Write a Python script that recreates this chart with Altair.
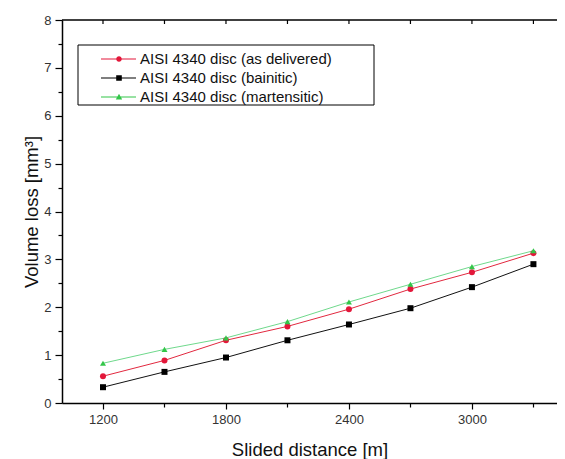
import altair as alt
import pandas as pd

# ---- data ----
distance = [1200, 1500, 1800, 2100, 2400, 2700, 3000, 3300]
as_delivered = [0.56, 0.89, 1.31, 1.60, 1.96, 2.38, 2.73, 3.13]
bainitic = [0.33, 0.65, 0.95, 1.31, 1.64, 1.98, 2.42, 2.90]
martensitic = [0.83, 1.12, 1.36, 1.70, 2.11, 2.48, 2.85, 3.18]

series_names = [
    "AISI 4340 disc (as delivered)",
    "AISI 4340 disc (bainitic)",
    "AISI 4340 disc (martensitic)",
]
line_colors = ["#e2283f", "#111111", "#6fd98c"]
marker_colors = ["#e3173a", "#000000", "#33c649"]
marker_shapes = ["circle", "square", "triangle-up"]

x_ticks = [1200, 1500, 1800, 2100, 2400, 2700, 3000, 3300]
y_ticks = [i * 0.5 for i in range(17)]

# legend symbols: line segment + marker (unit coords, scaled by sqrt(size)/2)
legend_paths = [
    "M1.25,-0.07H5.625V0.07H1.25Z M3.85,0A0.35,0.35 0 1,1 3.15,0A0.35,0.35 0 1,1 3.85,0Z",
    "M1.25,-0.07H5.625V0.07H1.25Z M3.15,-0.33H3.85V0.33H3.15Z",
    "M1.25,-0.07H5.625V0.07H1.25Z M3.5,-0.4L3.9,0.3L3.1,0.3Z",
]

rows = []
for name, vals in zip(series_names, [as_delivered, bainitic, martensitic]):
    for d, v in zip(distance, vals):
        rows.append({"distance": d, "loss": v, "series": name})
df = pd.DataFrame(rows)
ticks_df = pd.DataFrame({"distance": x_ticks})
one_df = pd.DataFrame({"k": [0]})

W, H = 495, 383
FONT = "Liberation Sans"

x_scale = alt.Scale(domain=[1000, 3415], nice=False, zero=False)
y_scale = alt.Scale(domain=[0, 8], nice=False, zero=False)

x_enc = alt.X(
    "distance:Q",
    scale=x_scale,
    axis=alt.Axis(
        values=x_ticks,
        format="d",
        labelExpr="datum.value % 600 === 0 ? datum.label : ''",
        tickSize={"condition": {"test": "datum.value % 600 === 0", "value": 6}, "value": 4},
        title="Slided distance [m]",
        grid=False,
        labelPadding=4,
        titlePadding=14,
    ),
)
y_enc = alt.Y(
    "loss:Q",
    scale=y_scale,
    axis=alt.Axis(
        values=y_ticks,
        format="~g",
        labelExpr="datum.value % 1 === 0 ? datum.label : ''",
        tickSize={"condition": {"test": "datum.value % 1 === 0", "value": 7}, "value": 4},
        title="Volume loss  [mm³]",
        grid=False,
        labelPadding=4,
        titlePadding=2,
    ),
)

lines = alt.Chart(df).mark_line(strokeWidth=1).encode(
    x=x_enc,
    y=y_enc,
    color=alt.Color("series:N", scale=alt.Scale(domain=series_names, range=line_colors), legend=None),
)

points = alt.Chart(df).mark_point(filled=True, opacity=1, size=36).encode(
    x=x_enc,
    y=y_enc,
    color=alt.Color("series:N", scale=alt.Scale(domain=series_names, range=marker_colors), legend=None),
    shape=alt.Shape("series:N", scale=alt.Scale(domain=series_names, range=marker_shapes), legend=None),
)

leg = dict(
    title=None,
    orient="none",
    legendX=16,
    legendY=26,
    padding=4,
    symbolSize=256,
    labelOffset=40,
    rowPadding=2,
    labelFont=FONT,
    labelFontSize=15,
    labelColor="#111111",
    labelLimit=400,
)
legend_layer = (
    alt.Chart(df)
    .transform_filter("datum.distance < 0")
    .mark_point(filled=True, opacity=1)
    .encode(
        x=x_enc,
        y=y_enc,
        color=alt.Color("series:N", scale=alt.Scale(domain=series_names, range=marker_colors), legend=alt.Legend(**leg)),
        shape=alt.Shape("series:N", scale=alt.Scale(domain=series_names, range=legend_paths), legend=alt.Legend(**leg)),
    )
)

# legend frame (decoration), drawn as four rules
BX0, BX1, BY0, BY1 = 16, 312, 25, 85
frame_style = dict(color="#000000", strokeWidth=1)
box_top = alt.Chart(one_df).mark_rule(**frame_style).encode(x=alt.value(BX0), x2=alt.value(BX1), y=alt.value(BY0))
box_bottom = alt.Chart(one_df).mark_rule(**frame_style).encode(x=alt.value(BX0), x2=alt.value(BX1), y=alt.value(BY1))
box_left = alt.Chart(one_df).mark_rule(**frame_style).encode(x=alt.value(BX0), y=alt.value(BY0), y2=alt.value(BY1))
box_right = alt.Chart(one_df).mark_rule(**frame_style).encode(x=alt.value(BX1), y=alt.value(BY0), y2=alt.value(BY1))

top_line = alt.Chart(one_df).mark_rule(color="#000000", strokeWidth=1.5).encode(
    x=alt.value(0), x2=alt.value(W), y=alt.value(0)
)
top_ticks = alt.Chart(ticks_df).mark_rule(color="#000000", strokeWidth=1.2).encode(
    x=x_enc, y=alt.value(0), y2=alt.value(4)
)

chart = (
    alt.layer(top_line, top_ticks, lines, points, box_top, box_bottom, box_left, box_right, legend_layer)
    .resolve_scale(color="independent", shape="independent")
    .properties(
        width=W,
        height=H,
        autosize=alt.AutoSizeParams(type="none"),
        padding={"left": 54, "top": 12, "right": 0, "bottom": 56},
        background="#ffffff",
    )
    .configure_view(stroke=None)
    .configure_axis(
        labelFont=FONT,
        labelFontSize=13,
        labelColor="#333333",
        titleFont=FONT,
        titleFontSize=18.5,
        titleFontWeight="normal",
        titleColor="#111111",
        domainColor="#000000",
        domainWidth=1.5,
        tickColor="#000000",
        tickWidth=1.2,
    )
)

chart.save("out.html", embed_options={"renderer": "svg", "actions": False})
